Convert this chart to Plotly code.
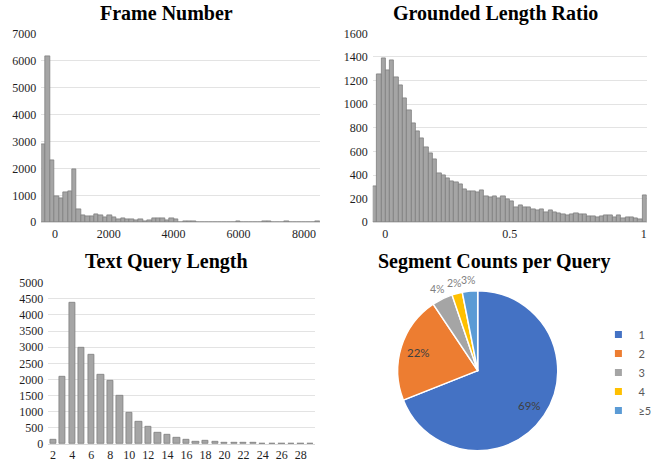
import math
import plotly.graph_objects as go

# ---------------- data ----------------
FRAME_COUNTS = [2900, 6150, 2300, 970, 880, 1120, 1160, 1950, 500, 260,
                215, 210, 300, 250, 200, 265, 175, 115, 150, 115,
                110, 80, 100, 40, 90, 150, 140, 150, 90, 130,
                110, 15, 20, 25, 35, 10, 12, 8, 10, 8,
                6, 8, 10, 12, 30, 10, 8, 6, 8, 10,
                20, 20, 8, 6, 10, 40, 8, 6, 8, 5,
                8, 6, 50]
FRAME_TICK_POS = [2.6, 14.8, 29.4, 44.1, 58.9]
FRAME_TICK_TEXT = ["0", "2000", "4000", "6000", "8000"]

RATIO_COUNTS = [307, 1256, 1388, 1284, 1371, 1227, 1163, 1050, 951, 838,
                773, 711, 638, 584, 533, 415, 400, 375, 350, 336,
                324, 279, 260, 260, 257, 271, 220, 214, 220, 206,
                220, 198, 178, 130, 144, 124, 124, 113, 102, 110,
                87, 104, 82, 79, 68, 62, 70, 76, 68, 65,
                54, 54, 42, 48, 59, 62, 42, 59, 31, 42,
                42, 37, 25, 228]
RATIO_TICK_POS = [2.4, 31.5, 62.8]
RATIO_TICK_TEXT = ["0", "0.5", "1"]

QUERY_LEN = [2, 3, 4, 5, 6, 7, 8, 9, 10, 11, 12, 13, 14, 15, 16, 17, 18, 19,
             20, 21, 22, 23, 24, 25, 26, 27, 28, 29]
QUERY_COUNTS = [124, 2087, 4390, 3000, 2780, 2150, 1950, 1485, 980, 695,
                520, 355, 290, 205, 135, 85, 93, 60, 40, 38,
                30, 25, 20, 18, 12, 10, 10, 8]
QUERY_TICKS = [2, 4, 6, 8, 10, 12, 14, 16, 18, 20, 22, 24, 26, 28]

SEG_LABELS = ["1", "2", "3", "4", "\u22655"]
SEG_SHARE = [69.0, 21.6, 4.2, 2.1, 3.1]
SEG_COLORS = ["#4472C4", "#ED7D31", "#A5A5A5", "#FFC000", "#5B9BD5"]
SEG_LABEL_INSIDE = [True, True, False, False, False]

# ---------------- style / geometry ----------------
W, H = 654, 467
BAR_FILL = "#A5A5A5"
BAR_EDGE = "#7F7F7F"
SERIF = "Liberation Serif, Times New Roman, serif"
SANS = "Lato, Open Sans, sans-serif"
GRID = "#E3E3E3"
PIE_DOM_X = [0.6081, 0.8528]
PIE_DOM_Y = [0.0343, 0.3783]

fig = go.Figure()

fig.add_trace(go.Bar(
    x=list(range(len(FRAME_COUNTS))), y=FRAME_COUNTS, width=1.0,
    marker=dict(color=BAR_FILL, line=dict(color=BAR_EDGE, width=0.8)),
    xaxis="x", yaxis="y", showlegend=False, hoverinfo="y"))

fig.add_trace(go.Bar(
    x=list(range(len(RATIO_COUNTS))), y=RATIO_COUNTS, width=1.0,
    marker=dict(color=BAR_FILL, line=dict(color=BAR_EDGE, width=0.8)),
    xaxis="x2", yaxis="y2", showlegend=False, hoverinfo="y"))

fig.add_trace(go.Bar(
    x=QUERY_LEN, y=QUERY_COUNTS, width=0.66,
    marker=dict(color=BAR_FILL, line=dict(color=BAR_EDGE, width=0.8)),
    xaxis="x3", yaxis="y3", showlegend=False, hoverinfo="x+y"))

fig.add_trace(go.Pie(
    values=SEG_SHARE, labels=SEG_LABELS, sort=False, direction="clockwise",
    rotation=0, domain=dict(x=PIE_DOM_X, y=PIE_DOM_Y),
    marker=dict(colors=SEG_COLORS, line=dict(color="white", width=1.5)),
    textinfo="none", showlegend=False))

# percentage labels placed along each slice's mid-angle (derived from the data)
total = sum(SEG_SHARE)
cx = (PIE_DOM_X[0] + PIE_DOM_X[1]) / 2
cy = (PIE_DOM_Y[0] + PIE_DOM_Y[1]) / 2
r_px = min((PIE_DOM_X[1] - PIE_DOM_X[0]) * W, (PIE_DOM_Y[1] - PIE_DOM_Y[0]) * H) / 2 - 2
cum = 0.0
for v, inside in zip(SEG_SHARE, SEG_LABEL_INSIDE):
    mid = (cum + v / 2) / total * 2 * math.pi  # clockwise from 12 o'clock
    cum += v
    dist = r_px * 0.8 if inside else r_px + 13
    ax = cx + dist * math.sin(mid) / W
    ay = cy + dist * math.cos(mid) / H
    fig.add_annotation(
        text=f"{round(v / total * 100)}%", x=ax, y=ay, xref="paper", yref="paper",
        xanchor="center", yanchor="middle", showarrow=False,
        font=dict(family=SANS, size=11.5 if inside else 10.5,
                  color="#404040" if inside else "#7F7F7F"))

# legend entries for the pie (small square keys)
for lab, col in zip(SEG_LABELS, SEG_COLORS):
    fig.add_trace(go.Scatter(
        x=[None], y=[None], mode="markers", name=lab,
        marker=dict(symbol="square", size=7, color=col),
        xaxis="x3", yaxis="y3", showlegend=True, hoverinfo="skip"))

tickfont = dict(family=SERIF, size=12, color="#1E1E1E")
common_x = dict(showgrid=False, showline=True, linecolor="#D9D9D9", linewidth=1,
                ticks="", tickfont=tickfont, zeroline=False, fixedrange=True,
                automargin=False)
common_y = dict(showgrid=True, gridcolor=GRID, gridwidth=1, showline=False,
                ticks="", tickfont=tickfont, zeroline=False, fixedrange=True,
                ticklabelstandoff=4, automargin=False)

fig.update_layout(
    width=W, height=H, autosize=False,
    margin=dict(l=0, r=0, t=0, b=0, pad=0, autoexpand=False),
    paper_bgcolor="white", plot_bgcolor="white",
    xaxis=dict(domain=[0.063, 0.489], range=[-0.5, len(FRAME_COUNTS) - 0.5],
               tickmode="array", tickvals=FRAME_TICK_POS, ticktext=FRAME_TICK_TEXT,
               anchor="y", **common_x),
    yaxis=dict(domain=[0.524, 0.9287], range=[0, 7000], dtick=1000,
               anchor="x", **common_y),
    xaxis2=dict(domain=[0.570, 0.989], range=[-0.5, len(RATIO_COUNTS) - 0.5],
                tickmode="array", tickvals=RATIO_TICK_POS, ticktext=RATIO_TICK_TEXT,
                anchor="y2", **common_x),
    yaxis2=dict(domain=[0.524, 0.9287], range=[0, 1600], dtick=200,
                anchor="x2", **common_y),
    xaxis3=dict(domain=[0.0739, 0.4817], range=[1.5, 29.5],
                tickmode="array", tickvals=QUERY_TICKS,
                anchor="y3", **common_x),
    yaxis3=dict(domain=[0.0493, 0.3946], range=[0, 5000], dtick=500,
                anchor="x3", **common_y),
    legend=dict(x=0.915, xanchor="left", y=0.3150, yanchor="top",
                font=dict(family=SANS, size=11, color="#595959"),
                bgcolor="rgba(0,0,0,0)", tracegroupgap=0),
    bargap=0,
)

title_font = dict(family=SERIF, size=20, color="#000000")
titles = [("Frame Number", 166 / W, 1 - 13.5 / H),
          ("Grounded Length Ratio", 495.5 / W, 1 - 13.5 / H),
          ("Text Query Length", 166.5 / W, 1 - 261 / H),
          ("Segment Counts per Query", 493.5 / W, 1 - 261.5 / H)]
for txt, x, y in titles:
    fig.add_annotation(text="<b>" + txt + "</b>", x=x, y=y, xref="paper", yref="paper",
                       xanchor="center", yanchor="middle", showarrow=False,
                       font=title_font)

fig.write_html("out.html", config={"responsive": False, "displayModeBar": False},
               post_script="document.body.style.margin='0';"
                           "document.body.style.overflow='hidden';")
